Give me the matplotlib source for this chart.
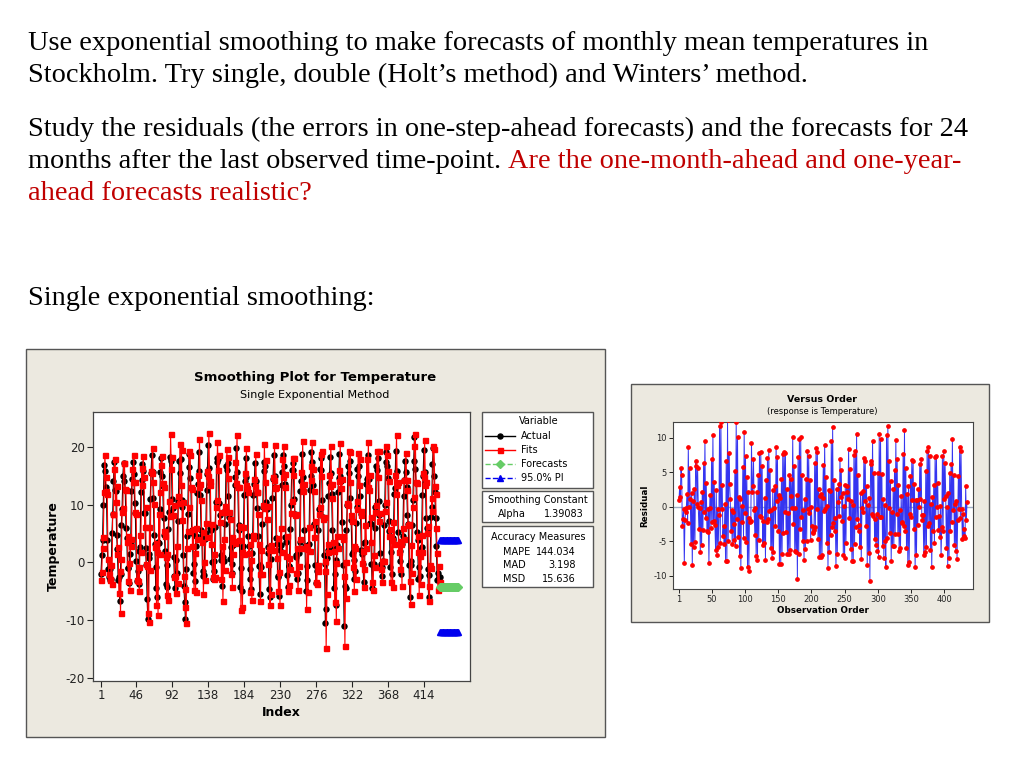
import numpy as np
import matplotlib
matplotlib.use('Agg')
import matplotlib.pyplot as plt
from matplotlib.patches import Rectangle
from matplotlib.lines import Line2D

# ---------------- data ----------------
# monthly mean temperature, series starts in February
temp_y00 = [-2.0, 1.3, 3.8, 10.0, 16.8, 15.8, 13.0, 12.0, 3.8, -1.2, -2.6]
temp_y01 = [-3.0, -1.2, -2.8, 5.0, 8.4, 14.0, 17.4, 12.5, 12.4, 4.8, 2.4, -3.0]
temp_y02 = [-2.6, -6.7, -2.0, 6.5, 9.2, 15.0, 17.2, 14.0, 12.6, 6.0, 4.2, -1.0]
temp_y03 = [-1.0, -3.5, 1.5, 3.2, 12.4, 14.5, 17.3, 15.2, 10.2, 8.5, 0.2, -3.2]
temp_y04 = [-1.5, -3.8, 2.0, 2.6, 12.2, 14.2, 17.0, 15.8, 8.6, 8.6, 2.5, -0.5]
temp_y05 = [-6.4, -9.8, 1.5, 0.8, 11.0, 15.5, 18.6, 15.6, 11.2, 4.8, 3.2, -4.4]
temp_y06 = [-0.8, -6.0, 3.5, 3.4, 9.2, 15.6, 18.0, 15.0, 13.2, 7.6, 4.8, 2.0]
temp_y07 = [-3.8, -0.5, -4.2, 5.8, 8.8, 18.2, 17.8, 17.6, 11.0, 9.4, 1.0, -2.4]
temp_y08 = [-4.5, 0.5, -1.8, 7.2, 10.6, 17.6, 15.4, 17.8, 10.8, 9.6, 1.2, -4.0]
temp_y09 = [-6.8, -9.7, -1.2, 4.6, 8.4, 16.5, 18.8, 14.6, 12.8, 5.6, 5.0, -1.8]
temp_y10 = [-0.2, -3.2, 2.8, 4.6, 12.0, 13.6, 19.0, 15.8, 11.6, 5.6, 4.8, -2.4]
temp_y11 = [-1.5, -2.2, 4.0, 5.0, 12.6, 15.2, 20.3, 16.4, 13.6, 6.0, 5.6, 0.0]
temp_y12 = [-2.8, 0.2, -1.4, 6.2, 10.4, 18.0, 17.4, 17.8, 10.2, 8.2, 0.4, 1.2]
temp_y13 = [-4.0, 1.0, 0.2, 6.6, 9.0, 16.6, 16.0, 17.2, 11.4, 7.8, 0.6, 2.6]
temp_y14 = [-1.8, -0.2, 3.0, 3.4, 13.4, 14.8, 19.7, 15.6, 13.0, 6.4, 5.6, -4.2]
temp_y15 = [-1.0, -5.0, 2.2, 2.8, 11.6, 14.0, 18.0, 14.8, 12.4, 4.6, 2.8, -2.8]
temp_y16 = [-1.2, -4.6, 1.6, 4.4, 11.6, 13.6, 17.2, 14.0, 12.2, 9.4, 4.6, -0.6]
temp_y17 = [-5.4, -0.4, -0.8, 6.6, 9.6, 17.4, 15.8, 16.6, 10.4, 9.2, 2.6, 1.6]
temp_y18 = [-4.6, -6.0, 0.6, 2.4, 11.2, 14.4, 18.6, 15.0, 13.0, 4.2, 3.2, -2.4]
temp_y19 = [-2.6, -5.8, 2.2, 3.0, 13.4, 15.6, 18.6, 16.6, 13.6, 4.4, 3.6, -2.2]
temp_y20 = [-4.2, -0.6, -0.6, 5.8, 10.0, 16.0, 16.0, 17.2, 11.0, 8.4, 1.0, 1.2]
temp_y21 = [-2.8, -1.8, 1.6, 3.6, 12.4, 14.0, 18.8, 14.8, 13.2, 5.6, 2.8, -5.0]
temp_y22 = [-0.6, -3.0, 3.0, 3.2, 12.6, 15.0, 19.0, 17.4, 13.4, 6.6, 6.4, -0.4]
temp_y23 = [-3.6, -1.4, -1.2, 5.6, 9.2, 16.2, 16.0, 18.0, 10.8, 7.8, 1.2, -0.2]
temp_y24 = [-10.5, -8.0, 0.8, 2.2, 11.4, 13.8, 18.2, 15.4, 11.8, 5.6, 2.4, -4.4]
temp_y25 = [-2.0, -7.3, 0.4, 3.0, 12.2, 14.6, 18.8, 15.0, 14.0, 7.0, 4.4, -0.4]
temp_y26 = [-11.0, -4.0, -4.4, 5.6, 10.0, 16.6, 15.4, 17.6, 11.2, 7.4, 1.4, 1.8]
temp_y27 = [-2.8, 0.4, -1.4, 6.8, 9.6, 16.2, 15.0, 16.6, 11.4, 8.4, 2.2, 1.4]
temp_y28 = [-0.2, -3.4, 3.4, 3.6, 13.6, 14.4, 18.6, 14.8, 14.4, 6.8, 6.6, -0.2]
temp_y29 = [-4.4, -0.4, -0.2, 6.0, 9.6, 16.6, 16.0, 18.0, 10.6, 8.2, 1.6, -0.2]
temp_y30 = [-2.4, -0.8, 0.2, 6.4, 10.0, 17.4, 19.0, 16.6, 14.6, 7.2, 5.4, -0.8]
temp_y31 = [1.8, -2.0, 3.8, 4.2, 11.8, 12.8, 19.2, 15.8, 13.8, 5.2, 3.2, 0.2]
temp_y32 = [2.0, -2.0, 3.2, 4.6, 11.4, 14.2, 17.6, 15.6, 13.0, 8.2, 6.6, -0.4]
temp_y33 = [-6.0, 0.2, -0.4, 6.4, 10.8, 17.6, 21.6, 16.2, 13.8, 5.2, 3.8, -2.8]
temp_y34 = [-0.8, -2.4, 2.4, 2.6, 11.6, 15.0, 19.4, 15.6, 13.8, 7.6, 6.0, -1.2]
temp_y35 = [-6.0, -2.2, -0.8, 7.8, 9.6, 17.0, 19.8, 15.0, 12.2, 7.6, 2.8, -3.0]
temp_y36 = [-1.8, -2.6, -2.6]

alpha = 1.39083
forecast_value = [-4.2] * 24
pi_upper = [3.8] * 24
pi_lower = [-12.0] * 24

index_ticks = [1, 46, 92, 138, 184, 230, 276, 322, 368, 414]
temp_ticks = [-20, -10, 0, 10, 20]
order_ticks = [1, 50, 100, 150, 200, 250, 300, 350, 400]
resid_ticks = [-10, -5, 0, 5, 10]

mape, mad, msd = "144.034", "3.198", "15.636"

actual = np.array(temp_y00 + temp_y01 + temp_y02 + temp_y03 + temp_y04 + temp_y05 +
                  temp_y06 + temp_y07 + temp_y08 + temp_y09 + temp_y10 + temp_y11 +
                  temp_y12 + temp_y13 + temp_y14 + temp_y15 + temp_y16 + temp_y17 +
                  temp_y18 + temp_y19 + temp_y20 + temp_y21 + temp_y22 + temp_y23 +
                  temp_y24 + temp_y25 + temp_y26 + temp_y27 + temp_y28 + temp_y29 +
                  temp_y30 + temp_y31 + temp_y32 + temp_y33 + temp_y34 + temp_y35 +
                  temp_y36)
n = len(actual)
idx = np.arange(1, n + 1)

# single exponential smoothing fits (one-step-ahead)
fits = np.empty(n)
level = actual[0] - 1.0
for t in range(n):
    fits[t] = level
    level = level + alpha * (actual[t] - level)
resid = actual - fits
fidx = np.arange(n + 1, n + 1 + len(forecast_value))

# ---------------- figure ----------------
W, H = 1024, 768
fig = plt.figure(figsize=(W / 100, H / 100), dpi=100)
fig.patch.set_facecolor('white')
BEIGE = '#ECE9E0'
EDGE = '#555555'
SERIF = 'Liberation Serif'
SANS = 'DejaVu Sans'


def fx(x):
    return x / W


def fy(y):
    return 1 - y / H


def box(x0, y0, x1, y1):
    return [x0 / W, 1 - y1 / H, (x1 - x0) / W, (y1 - y0) / H]


def rect(x0, y0, x1, y1, fc, ec, lw=1.0, z=0):
    fig.add_artist(Rectangle((fx(x0), fy(y1)), (x1 - x0) / W, (y1 - y0) / H,
                             transform=fig.transFigure, facecolor=fc,
                             edgecolor=ec, linewidth=lw, zorder=z))


# ---------------- slide text ----------------
fs_slide = 20.4
RED = '#C00000'
fig.text(fx(28), fy(50), "Use exponential smoothing to make forecasts of monthly mean temperatures in",
         fontsize=fs_slide, family=SERIF, va='baseline')
fig.text(fx(28), fy(82), "Stockholm. Try single, double (Holt\u2019s method) and Winters\u2019 method.",
         fontsize=fs_slide, family=SERIF, va='baseline')
fig.text(fx(28), fy(136), "Study the residuals (the errors in one-step-ahead forecasts) and the forecasts for 24",
         fontsize=fs_slide, family=SERIF, va='baseline')
t_black = fig.text(fx(28), fy(168), "months after the last observed time-point. ",
                   fontsize=fs_slide, family=SERIF, va='baseline')
fig.canvas.draw()
bb = t_black.get_window_extent(renderer=fig.canvas.get_renderer())
fig.text(bb.x1 / W, fy(168), "Are the one-month-ahead and one-year-",
         fontsize=fs_slide, family=SERIF, va='baseline', color=RED)
fig.text(fx(28), fy(200), "ahead forecasts realistic?",
         fontsize=fs_slide, family=SERIF, va='baseline', color=RED)
fig.text(fx(28), fy(305), "Single exponential smoothing:",
         fontsize=fs_slide, family=SERIF, va='baseline')

# ---------------- left panel ----------------
rect(26, 349, 605, 737, BEIGE, EDGE, 1.0, 0)
fig.text(fx(315), fy(378), "Smoothing Plot for Temperature", fontsize=9.5,
         family=SANS, weight='bold', ha='center', va='center')
fig.text(fx(315), fy(395), "Single Exponential Method", fontsize=8,
         family=SANS, ha='center', va='center')

ax = fig.add_axes(box(93, 412, 470, 681))
ax.set_facecolor('white')
ax.plot(idx, actual, '-', color='black', lw=0.8, marker='o', ms=3.6, zorder=3)
ax.plot(idx, fits, '-', color='red', lw=0.8, marker='s', ms=3.6, zorder=4)
ax.plot(fidx, forecast_value, '--', color='#66CC66', lw=1.2, marker='D', ms=4.2,
        zorder=5)
ax.plot(fidx, pi_upper, '--', color='#0000EE', lw=1.2, marker='^', ms=4.8, zorder=5)
ax.plot(fidx, pi_lower, '--', color='#0000EE', lw=1.2, marker='^', ms=4.8, zorder=5)
ax.set_xlim(-9.2, 473)
ax.set_ylim(-20.5, 26)
ax.set_xticks(index_ticks)
ax.set_xticklabels([str(v) for v in index_ticks])
ax.set_yticks(temp_ticks)
ax.set_yticklabels([str(v) for v in temp_ticks])
ax.tick_params(direction='out', length=4, width=0.8, labelsize=8.5, colors='#222222',
               pad=2)
for s in ax.spines.values():
    s.set_color('#444444')
    s.set_linewidth(0.9)
ax.set_xlabel("Index", fontsize=9, weight='bold', family=SANS, labelpad=3)
ax.set_ylabel("Temperature", fontsize=9, weight='bold', family=SANS, labelpad=4)

# legend boxes
rect(482, 412, 593, 488, 'white', EDGE, 1.0, 1)
rect(482, 491, 593, 522, 'white', EDGE, 1.0, 1)
rect(482, 526, 593, 587, 'white', EDGE, 1.0, 1)
lfs = 7
fig.text(fx(539), fy(421), "Variable", fontsize=lfs, family=SANS, ha='center', va='center')
legend_items = [
    ("Actual", 'black', '-', 'o', 3.6),
    ("Fits", 'red', '-', 's', 3.6),
    ("Forecasts", '#66CC66', '--', 'D', 3.6),
    ("95.0% PI", '#0000EE', '--', '^', 4.0),
]
ys = [436, 450, 464, 478]
for (lab, col, ls, mk, ms), yy in zip(legend_items, ys):
    fig.add_artist(Line2D([fx(485), fx(515)], [fy(yy), fy(yy)], transform=fig.transFigure,
                          color=col, ls=ls, lw=1.0, zorder=3))
    fig.add_artist(Line2D([fx(500)], [fy(yy)], transform=fig.transFigure,
                          color=col, marker=mk, ms=ms, ls='none', zorder=4))
    fig.text(fx(521), fy(yy), lab, fontsize=lfs, family=SANS, va='center', zorder=4)
fig.text(fx(538), fy(500), "Smoothing Constant", fontsize=lfs, family=SANS,
         ha='center', va='center', zorder=4)
fig.text(fx(498), fy(514), "Alpha", fontsize=lfs, family=SANS, va='center', zorder=4)
fig.text(fx(584), fy(514), "1.39083", fontsize=lfs, family=SANS, ha='right', va='center', zorder=4)
fig.text(fx(538), fy(537), "Accuracy Measures", fontsize=lfs, family=SANS,
         ha='center', va='center', zorder=4)
for lab, val, yy in [("MAPE", mape, 552), ("MAD", mad, 565), ("MSD", msd, 579)]:
    fig.text(fx(503), fy(yy), lab, fontsize=lfs, family=SANS, va='center', zorder=4)
    fig.text(fx(576), fy(yy), val, fontsize=lfs, family=SANS, ha='right', va='center', zorder=4)

# ---------------- right panel ----------------
rect(631, 384, 989, 622, BEIGE, EDGE, 1.0, 0)
fig.text(fx(822), fy(400), "Versus Order", fontsize=6.8, family=SANS, weight='bold',
         ha='center', va='center')
fig.text(fx(822), fy(411), "(response is Temperature)", fontsize=6, family=SANS,
         ha='center', va='center')
ax2 = fig.add_axes(box(673, 422, 973, 589))
ax2.set_facecolor('white')
ax2.axhline(0, color='#A0AEC4', lw=1.0, zorder=1)
ax2.plot(idx, resid, '-', color='#3535F0', lw=0.7, zorder=2)
ax2.plot(idx, resid, 'o', color='red', ms=2.4, mec='red', zorder=3)
ax2.set_xlim(-8, 443)
ax2.set_ylim(-11.9, 12.3)
ax2.set_xticks(order_ticks)
ax2.set_xticklabels([str(v) for v in order_ticks])
ax2.set_yticks(resid_ticks)
ax2.set_yticklabels([str(v) for v in resid_ticks])
ax2.tick_params(direction='out', length=3, width=0.7, labelsize=6, colors='#222222', pad=1.5)
for s in ax2.spines.values():
    s.set_color('#444444')
    s.set_linewidth(0.8)
ax2.set_xlabel("Observation Order", fontsize=6.3, weight='bold', family=SANS, labelpad=1)
ax2.set_ylabel("Residual", fontsize=6.3, weight='bold', family=SANS, labelpad=3)

fig.savefig('out.png', dpi=100)
